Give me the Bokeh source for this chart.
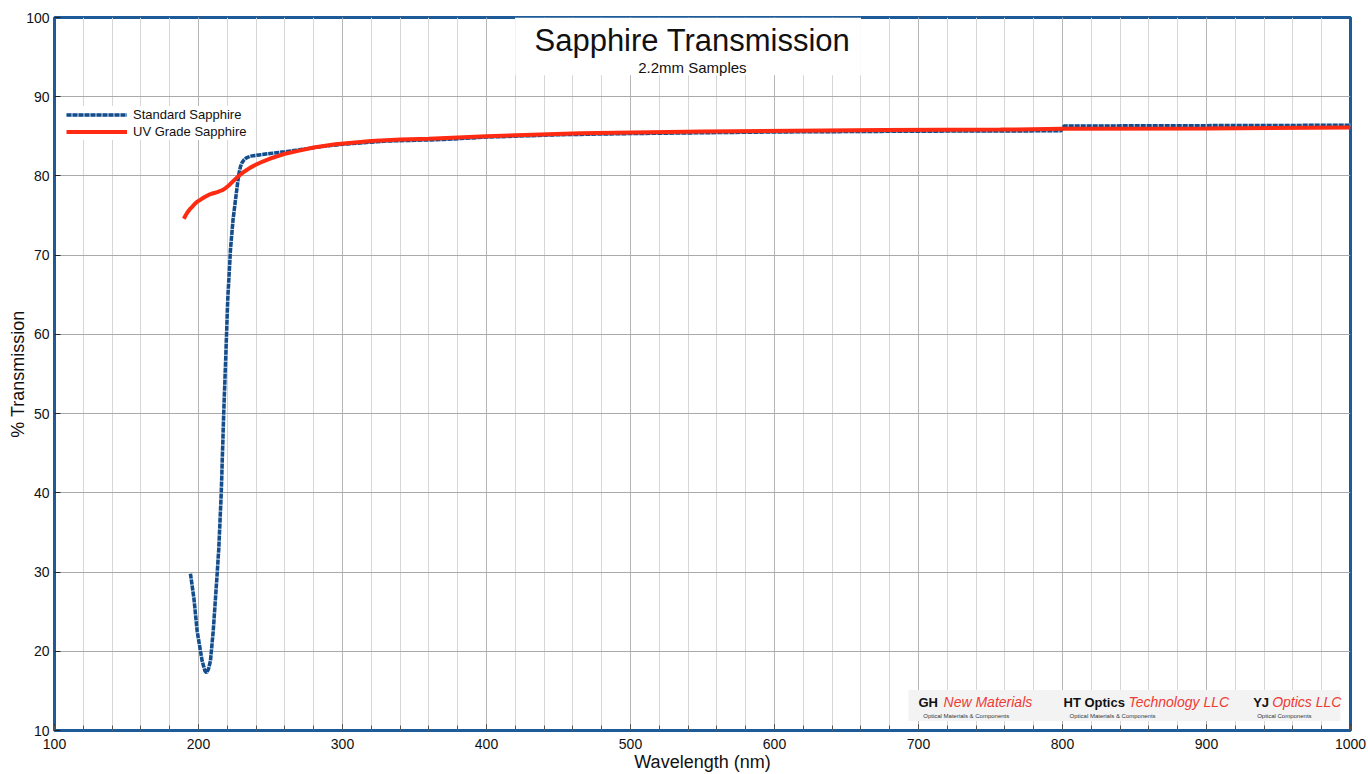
from bokeh.plotting import figure
from bokeh.models import Range1d, FixedTicker, Legend, LegendItem, Label, BoxAnnotation
from bokeh.embed import file_html
from bokeh.resources import INLINE

# ---------------- data ----------------
std_wl = [194.4, 196.8, 199.1, 202.5, 204.5, 205.6, 207.0, 208.3, 210.2, 211.8, 213.0,
          214.1, 215.8, 217.5, 219.0, 220.3, 222.2, 224.0, 225.7, 227.3, 228.2, 229.2,
          230.3, 231.5, 233.0, 236.0, 242.0, 248.0, 260.0, 270.0, 285.0, 300.0, 330.0,
          350.0, 370.0, 400.0, 450.0, 500.0, 600.0, 700.0, 799.0, 801.0, 900.0, 1000.0]
std_t = [29.8, 26.7, 22.5, 18.8, 17.5, 17.3, 17.8, 18.8, 22.5, 26.7, 29.9,
         33.0, 40.0, 50.0, 57.5, 64.4, 70.7, 74.5, 77.0, 79.3, 80.4, 81.2,
         81.7, 82.0, 82.25, 82.5, 82.65, 82.8, 83.05, 83.3, 83.7, 84.0, 84.4,
         84.5, 84.6, 84.9, 85.2, 85.35, 85.55, 85.65, 85.7, 86.3, 86.35, 86.4]

uv_wl = [189.8, 191.0, 192.5, 194.0, 195.6, 197.0, 198.5, 200.0, 201.4, 203.0, 205.0,
         207.0, 209.0, 211.0, 213.0, 215.0, 217.0, 219.0, 221.0, 223.0, 225.0, 227.0,
         229.0, 231.0, 233.5, 236.0, 239.0, 242.0, 245.0, 248.0, 251.5, 255.0, 260.0,
         270.0, 280.0, 295.0, 320.0, 340.0, 360.0, 400.0, 465.0, 550.0, 675.0, 757.0,
         800.0, 900.0, 1000.0]
uv_t = [74.6, 75.0, 75.45, 75.8, 76.1, 76.4, 76.65, 76.85, 77.0, 77.2, 77.4,
        77.6, 77.75, 77.85, 77.95, 78.1, 78.25, 78.5, 78.8, 79.15, 79.5, 79.85,
        80.15, 80.45, 80.75, 81.05, 81.35, 81.6, 81.85, 82.05, 82.3, 82.5, 82.8,
        83.2, 83.6, 84.0, 84.4, 84.6, 84.7, 85.0, 85.4, 85.6, 85.8, 85.85,
        85.95, 86.0, 86.1]

x_ticks = [100, 200, 300, 400, 500, 600, 700, 800, 900, 1000]
x_minor = [100, 120, 140, 160, 180, 200, 220, 240, 260, 280, 300, 320, 340, 360, 380,
           400, 420, 440, 460, 480, 500, 520, 540, 560, 580, 600, 620, 640, 660, 680,
           700, 720, 740, 760, 780, 800, 820, 840, 860, 880, 900, 920, 940, 960, 980, 1000]
y_ticks = [10, 20, 30, 40, 50, 60, 70, 80, 90, 100]

title_text = "Sapphire Transmission"
subtitle_text = "2.2mm Samples"
series_names = ["Standard Sapphire", "UV Grade Sapphire"]

FONT = "Liberation Sans"
BLUE = "#134d8c"
RED = "#ff2a12"
FRAME = "#1c5b98"

p = figure(width=1366, height=774,
           x_range=Range1d(100, 1000), y_range=Range1d(10, 100),
           output_backend="svg", toolbar_location=None,
           min_border_left=54, min_border_right=16, min_border_top=17, min_border_bottom=41)

p.outline_line_color = FRAME
p.outline_line_width = 3
p.outline_line_alpha = 1.0

# axes
p.xaxis.ticker = FixedTicker(ticks=x_ticks, minor_ticks=x_minor)
p.yaxis.ticker = FixedTicker(ticks=y_ticks)
for ax in (p.xaxis[0], p.yaxis[0]):
    ax.axis_line_color = None
    ax.major_tick_in = 6
    ax.major_tick_out = 0
    ax.minor_tick_in = 5
    ax.minor_tick_out = 0
    ax.major_tick_line_color = "#222222"
    ax.minor_tick_line_color = "#555555"
    ax.major_label_text_font = FONT
    ax.major_label_text_font_size = "14px"
    ax.major_label_text_color = "#111111"
    ax.axis_label_text_font = FONT
    ax.axis_label_text_font_size = "18px"
    ax.axis_label_text_font_style = "normal"
    ax.axis_label_text_color = "#111111"
p.yaxis.minor_tick_line_color = None
p.xaxis.axis_label = "Wavelength (nm)"
p.yaxis.axis_label = "% Transmission"
p.xaxis.major_label_standoff = 8
p.xaxis.axis_label_standoff = 0
p.yaxis.major_label_standoff = 5
p.yaxis.axis_label_standoff = -5

# grids
p.xgrid.ticker = FixedTicker(ticks=x_ticks, minor_ticks=x_minor)
p.xgrid.grid_line_color = "#b5b5b5"
p.xgrid.grid_line_width = 1
p.xgrid.minor_grid_line_color = "#d6d6d6"
p.xgrid.minor_grid_line_width = 1
p.ygrid.ticker = FixedTicker(ticks=y_ticks)
p.ygrid.grid_line_color = "#a9a9a9"
p.ygrid.grid_line_width = 1

# white box behind title
tbox = BoxAnnotation(left=420, right=660, top=100, bottom=92.7,
                     fill_color="white", fill_alpha=1.0, line_color=None, level="underlay")
p.add_layout(tbox)

# curves
r_std_bg = p.line(std_wl, std_t, line_color="#d2deee", line_width=3.5)
r_std = p.line(std_wl, std_t, line_color=BLUE, line_width=3.5, line_dash="5 1")
r_uv = p.line(uv_wl, uv_t, line_color=RED, line_width=4)

legend = Legend(items=[LegendItem(label=series_names[0], renderers=[r_std_bg, r_std]),
                       LegendItem(label=series_names[1], renderers=[r_uv])],
                location=(12, 590))
legend.border_line_color = None
legend.background_fill_color = "white"
legend.background_fill_alpha = 1.0
legend.label_text_font = FONT
legend.label_text_font_size = "13px"
legend.label_text_color = "#111111"
legend.glyph_width = 61
legend.glyph_height = 17
legend.label_height = 17
legend.label_standoff = 6
legend.spacing = 0
legend.padding = 4
legend.margin = 0
p.add_layout(legend)

# title texts
p.add_layout(Label(x=543, y=97.1, text=title_text, text_font=FONT, text_font_size="31px",
                   text_align="center", text_baseline="middle", text_color="#111111"))
p.add_layout(Label(x=543, y=93.7, text=subtitle_text, text_font=FONT, text_font_size="15px",
                   text_align="center", text_baseline="middle", text_color="#111111"))

# logo strip
lbox = BoxAnnotation(left=693, right=993, top=15.1, bottom=11.2,
                     fill_color="#f3f3f3", fill_alpha=1.0, line_color=None, level="annotation")
p.add_layout(lbox)
logos = [
    (700.0, "GH", 717.4, "New Materials", 703.3, "Optical Materials & Components"),
    (800.7, "HT Optics", 845.8, "Technology LLC", 804.9, "Optical Materials & Components"),
    (932.4, "YJ", 945.6, "Optics LLC", 935.2, "Optical Components"),
]
for bx, btxt, rx, rtxt, sx, stxt in logos:
    p.add_layout(Label(x=bx, y=13.55, text=btxt, text_font=FONT, text_font_size="13px",
                       text_font_style="bold", text_align="left", text_baseline="middle",
                       text_color="#111111"))
    p.add_layout(Label(x=rx, y=13.55, text=rtxt, text_font=FONT, text_font_size="14px",
                       text_font_style="italic", text_align="left", text_baseline="middle",
                       text_color="#ee3b33"))
    p.add_layout(Label(x=sx, y=11.85, text=stxt, text_font=FONT, text_font_size="6px",
                       text_align="left", text_baseline="middle", text_color="#333333"))

open("out.html", "w").write(file_html(p, INLINE))
